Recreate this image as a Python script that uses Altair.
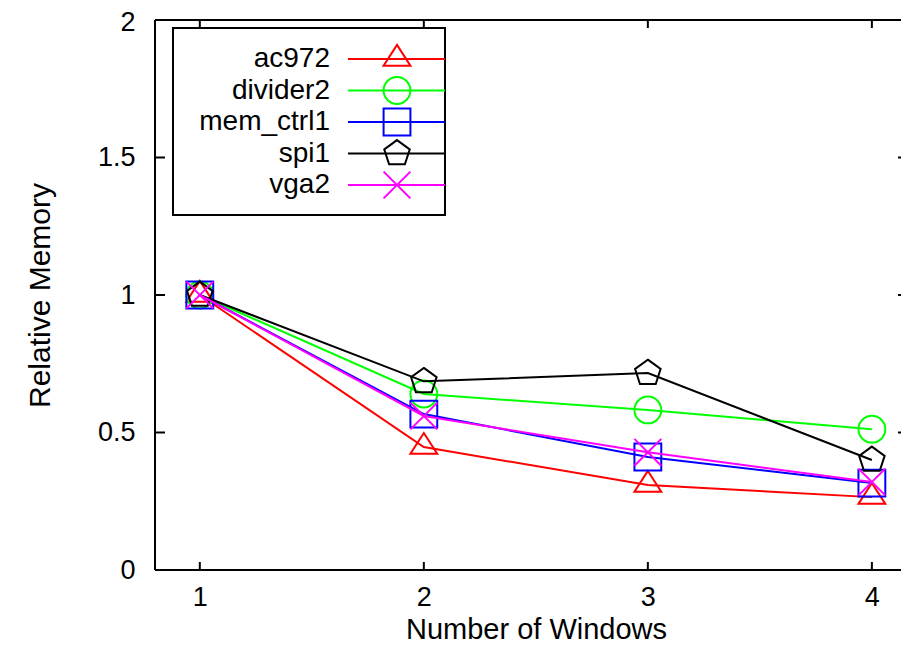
import altair as alt
import pandas as pd

# ---- data ----
windows = [1, 2, 3, 4]
series_names = ["ac972", "divider2", "mem_ctrl1", "spi1", "vga2"]
ac972 = [1.0, 0.447, 0.309, 0.265]
divider2 = [1.0, 0.640, 0.582, 0.512]
mem_ctrl1 = [1.0, 0.567, 0.411, 0.316]
spi1 = [1.0, 0.686, 0.716, 0.400]
vga2 = [1.0, 0.560, 0.428, 0.320]
y_ticks = [0, 0.5, 1, 1.5, 2]
x_ticks = [1, 2, 3, 4]

colors = ["#ff0000", "#00ff00", "#0000ff", "#000000", "#ff00ff"]
shapes = [
    "M0,-1.05L1,0.5L-1,0.5Z",  # triangle
    "circle",
    "square",
    "M0,-1L0.951,-0.309L0.588,0.809L-0.588,0.809L-0.951,-0.309Z",  # pentagon
    "M-1,-1L1,1M-1,1L1,-1",  # x
]

values = [ac972, divider2, mem_ctrl1, spi1, vga2]
rows = []
for name, vals in zip(series_names, values):
    for xv, yv in zip(windows, vals):
        rows.append({"series": name, "x": xv, "y": yv})
df = pd.DataFrame(rows)

W, H = 746, 550
FONT = "Liberation Sans"
FS_LAB = 27
FS_TIT = 29
FS_LEG = 28

xscale = alt.Scale(domain=[0.8, 4.13], nice=False, zero=False)
yscale = alt.Scale(domain=[0, 2], nice=False, zero=False)

xaxis = alt.Axis(values=x_ticks, format="d", ticks=False, domain=False, grid=False,
                 labelFont=FONT, labelFontSize=FS_LAB, labelColor="black", labelPadding=14,
                 labelFlush=False, labelOverlap=False,
                 title="Number of Windows", titleFont=FONT, titleFontSize=FS_TIT,
                 titleFontWeight="normal", titleColor="black",
                 titleX=381, titleY=68, titleBaseline="alphabetic", titleAlign="center")
yaxis = alt.Axis(values=y_ticks, format="~g", ticks=False, domain=False, grid=False,
                 labelFont=FONT, labelFontSize=FS_LAB, labelColor="black", labelPadding=20,
                 labelFlush=False, labelOverlap=False,
                 labelOffset={"condition": {"test": "datum.value == 2", "value": 2}, "value": 0},
                 title="Relative Memory", titleFont=FONT, titleFontSize=30,
                 titleFontWeight="normal", titleColor="black",
                 titleX=-106, titleY=H / 2, titleBaseline="alphabetic",
                 titleAlign="center", titleAngle=270)

X = alt.X("x:Q", scale=xscale, axis=xaxis)
Y = alt.Y("y:Q", scale=yscale, axis=yaxis)

layers = []

# frame
one = pd.DataFrame({"a": [0]})
layers.append(alt.Chart(one).mark_rule(color="black", strokeWidth=2).encode(
    x=alt.value(0), x2=alt.value(W), y=alt.value(0)))
layers.append(alt.Chart(one).mark_rule(color="black", strokeWidth=2).encode(
    x=alt.value(0), x2=alt.value(W), y=alt.value(H)))
layers.append(alt.Chart(one).mark_rule(color="black", strokeWidth=2).encode(
    x=alt.value(0), y=alt.value(0), y2=alt.value(H)))

# ticks (inward)
ytick_df = pd.DataFrame({"y": y_ticks})
xtick_df = pd.DataFrame({"x": x_ticks})
layers.append(alt.Chart(ytick_df).mark_rule(color="black", strokeWidth=2).encode(
    y=Y, x=alt.value(0), x2=alt.value(10)))
layers.append(alt.Chart(ytick_df).mark_rule(color="black", strokeWidth=2).encode(
    y=Y, x=alt.value(W - 3), x2=alt.value(W)))
layers.append(alt.Chart(xtick_df).mark_rule(color="black", strokeWidth=2).encode(
    x=X, y=alt.value(0), y2=alt.value(8)))
layers.append(alt.Chart(xtick_df).mark_rule(color="black", strokeWidth=2).encode(
    x=X, y=alt.value(H - 8), y2=alt.value(H)))

# data series
for name, c, s in zip(series_names, colors, shapes):
    sub = df[df.series == name]
    layers.append(alt.Chart(sub).mark_line(color=c, strokeWidth=2).encode(x=X, y=Y))
    layers.append(alt.Chart(sub).mark_point(shape=s, color=c, filled=False,
                                            strokeWidth=2, size=720, opacity=1).encode(x=X, y=Y))

# legend box
layers.append(alt.Chart(one).mark_rect(fillOpacity=0, stroke="black", strokeWidth=2).encode(
    x=alt.value(18), x2=alt.value(290), y=alt.value(8), y2=alt.value(195)))
for i, (name, c, s) in enumerate(zip(series_names, colors, shapes)):
    ly = 39 + 31.5 * i
    d = pd.DataFrame({"series": [name]})
    layers.append(alt.Chart(d).mark_text(align="right", baseline="middle", font=FONT,
                                         fontSize=FS_LEG, color="black").encode(
        text="series:N", x=alt.value(175), y=alt.value(ly)))
    layers.append(alt.Chart(d).mark_rule(color=c, strokeWidth=2).encode(
        x=alt.value(193), x2=alt.value(290), y=alt.value(ly)))
    layers.append(alt.Chart(d).mark_point(shape=s, color=c, filled=False, strokeWidth=2,
                                          size=720, opacity=1).encode(
        x=alt.value(242), y=alt.value(ly)))

chart = alt.layer(*layers).properties(
    width=W, height=H,
    padding={"left": 147, "top": 12, "right": 0, "bottom": 74},
    autosize=alt.AutoSizeParams(type="none"),
).configure_view(stroke=None).configure(background="white")

chart.save("out.html", embed_options={"renderer": "svg", "actions": False})
